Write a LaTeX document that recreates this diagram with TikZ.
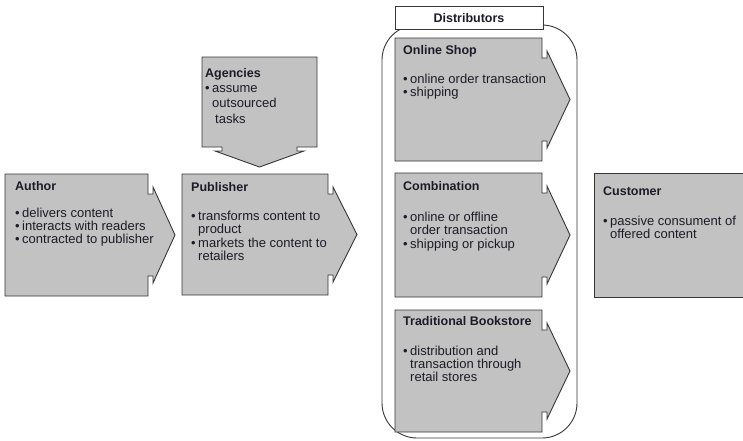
\documentclass[tikz,border=0pt]{standalone}
\usepackage{fontspec}
\setmainfont{Liberation Sans}
\definecolor{boxfill}{RGB}{194,194,194}
\definecolor{boxline}{RGB}{55,55,55}
\definecolor{txtc}{RGB}{28,28,40}
\newcommand\bul{\makebox[7pt][l]{•}}
\newcommand\ind{\hspace*{7pt}}
% right-pointing process box: L T R B tipX
\newcommand\rarrowbox[5]{%
  \draw[procbox] (#1,#2) -- (#3,#2) -- (#3,{#2+20}) -- ({#3+5},{#2+20}) -- ({#3+5},{#2+13})
    -- (#5,{(#2+#4)/2}) -- ({#3+5},{#4-13}) -- ({#3+5},{#4-20}) -- (#3,{#4-20}) -- (#3,#4)
    -- (#1,#4) -- cycle;}
\begin{document}
\begin{tikzpicture}[x=1pt,y=-1pt,
  procbox/.style={fill=boxfill,draw=boxline,line width=0.9pt,line join=miter},
  head/.style={anchor=base west,inner sep=0,text=txtc,font=\fontsize{12.5}{13.3}\selectfont\bfseries},
  body/.style={anchor=base west,inner sep=0,text=txtc,font=\fontsize{13}{13.3}\selectfont},
  container/.style={draw=boxline,line width=0.9pt,rounded corners=35pt},
  label/.style={draw=boxline,fill=white,line width=0.9pt}]
\useasboundingbox (0,0) rectangle (743,440);

% Distributors container
\draw[container] (382,25) rectangle (577,438);
\draw[label] (395,6) rectangle (543,29);
\node[head,anchor=base] (distlabel) at (469,22.5) {Distributors};

% Agencies (down arrow)
\draw[procbox] (202,57) -- (317,57) -- (317,147) -- (297,147) -- (297,151) -- (304,151)
  -- (259.5,167) -- (215,151) -- (222,151) -- (222,147) -- (202,147) -- cycle;
\node[head] (agencies-h) at (205,77) {Agencies};
\node[body] (agencies-b) at (205,92) {\parbox[t]{120pt}{\fontsize{13}{15.8}\selectfont
  \bul assume\\ \ind outsourced\\ \ind\hspace*{3pt}tasks}};

% Author
\rarrowbox{5}{174}{148}{296}{175}
\node[head] (author-h) at (15,190.5) {Author};
\node[body] (author-b) at (15,217) {\parbox[t]{160pt}{%
  \bul delivers content\\ \bul interacts with readers\\ \bul contracted to publisher}};

% Publisher
\rarrowbox{182}{174}{328}{295}{357}
\node[head] (publisher-h) at (191,191) {Publisher};
\node[body] (publisher-b) at (191,220.5) {\parbox[t]{160pt}{%
  \bul transforms content to\\ \ind product\\ \bul markets the content to\\ \ind retailers}};

% Online Shop
\rarrowbox{395}{38}{542}{161}{570}
\node[head] (online-h) at (403,54.5) {Online Shop};
\node[body] (online-b) at (403,83.5) {\parbox[t]{170pt}{%
  \bul online order transaction\\ \bul shipping}};

% Combination
\rarrowbox{395}{173}{542}{297}{570}
\node[head] (comb-h) at (403,190.5) {Combination};
\node[body] (comb-b) at (403,221.5) {\parbox[t]{170pt}{%
  \bul online or offline\\ \ind order transaction\\ \bul shipping or pickup}};

% Traditional Bookstore
\rarrowbox{395}{310}{542}{432}{570}
\node[head] (book-h) at (403,325.5) {Traditional Bookstore};
\node[body] (book-b) at (403,355) {\parbox[t]{170pt}{%
  \bul distribution and\\ \ind transaction through\\ \ind retail stores}};

% Customer
\draw[procbox] (594,173) -- (744,173) -- (744,297) -- (594,297) -- cycle;
\node[head] (cust-h) at (603,195) {Customer};
\node[body] (cust-b) at (603,225) {\parbox[t]{170pt}{%
  \bul passive consument of\\ \ind offered content}};
\end{tikzpicture}
\end{document}
